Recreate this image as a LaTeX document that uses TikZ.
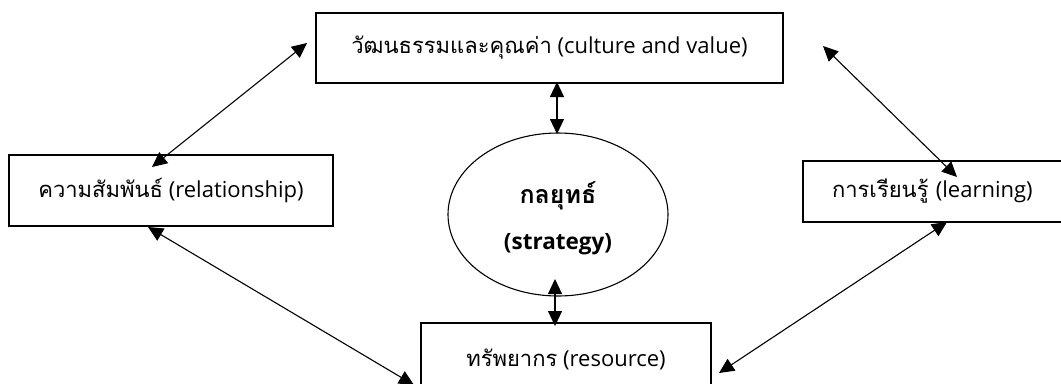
\documentclass[tikz,border=0pt]{standalone}
\usepackage{fontspec}
\setmainfont{Open Sans}
\newfontfamily\thaifont[Script=Thai,Scale=1.0]{Loma}
\usetikzlibrary{arrows.meta,shapes.geometric}
\tikzset{
  box/.style={draw,line width=1.1bp,rectangle,inner sep=0pt,font=\fontsize{22bp}{27bp}\selectfont},
  oval/.style={draw,line width=1.1bp,ellipse,inner sep=0pt},
  boldtxt/.style={font=\bfseries\fontsize{22.5bp}{28bp}\selectfont},
  link/.style={line width=1.1bp,{Triangle[length=15bp,width=14bp]}-{Triangle[length=15bp,width=14bp]}}
}
\begin{document}
\begin{tikzpicture}[x=1bp,y=-1bp]
\path[use as bounding box,clip] (0,0) rectangle (1061,383);
\fill[white] (0,0) rectangle (1061,383);
\node[box,minimum width=467bp,minimum height=70bp] (cul) at (549.5,48) {{\thaifont วัฒนธรรมและคุณค่า} (culture and value)};
\node[box,minimum width=324bp,minimum height=71bp] (rel) at (171,190.5) {{\thaifont ความสัมพันธ์} (relationship)};
\node[box,minimum width=284bp,minimum height=61bp,text width=284bp,align=left] (lea) at (945,191.5) {\hspace*{29bp}{\thaifont การเรียนรู้} (learning)};
\node[box,minimum width=290bp,minimum height=72bp] (res) at (566,359) {{\thaifont ทรัพยากร} (resource)};
\node[oval,minimum width=220bp,minimum height=163bp] (str) at (558,214.5) {};
\node[boldtxt] (s1) at (558,196) {{\thaifont\fontsize{25bp}{28bp}\selectfont กลยุทธ์}};
\node[boldtxt] (s2) at (558,244) {(strategy)};
\coordinate (a1) at (307,43);
\coordinate (a2) at (152,167);
\coordinate (b1) at (823,46);
\coordinate (b2) at (957,177);
\coordinate (c1) at (148,227);
\coordinate (c2) at (414,385);
\coordinate (d1) at (947,222);
\coordinate (d2) at (719,373);
\coordinate (e1) at (557,82);
\coordinate (e2) at (557,134);
\coordinate (f1) at (555,279);
\coordinate (f2) at (555,326);
\draw[link] (a1) -- (a2);
\draw[link] (b1) -- (b2);
\draw[link] (c1) -- (c2);
\draw[link] (d1) -- (d2);
\draw[link] (e1) -- (e2);
\draw[link] (f1) -- (f2);
\end{tikzpicture}
\end{document}
